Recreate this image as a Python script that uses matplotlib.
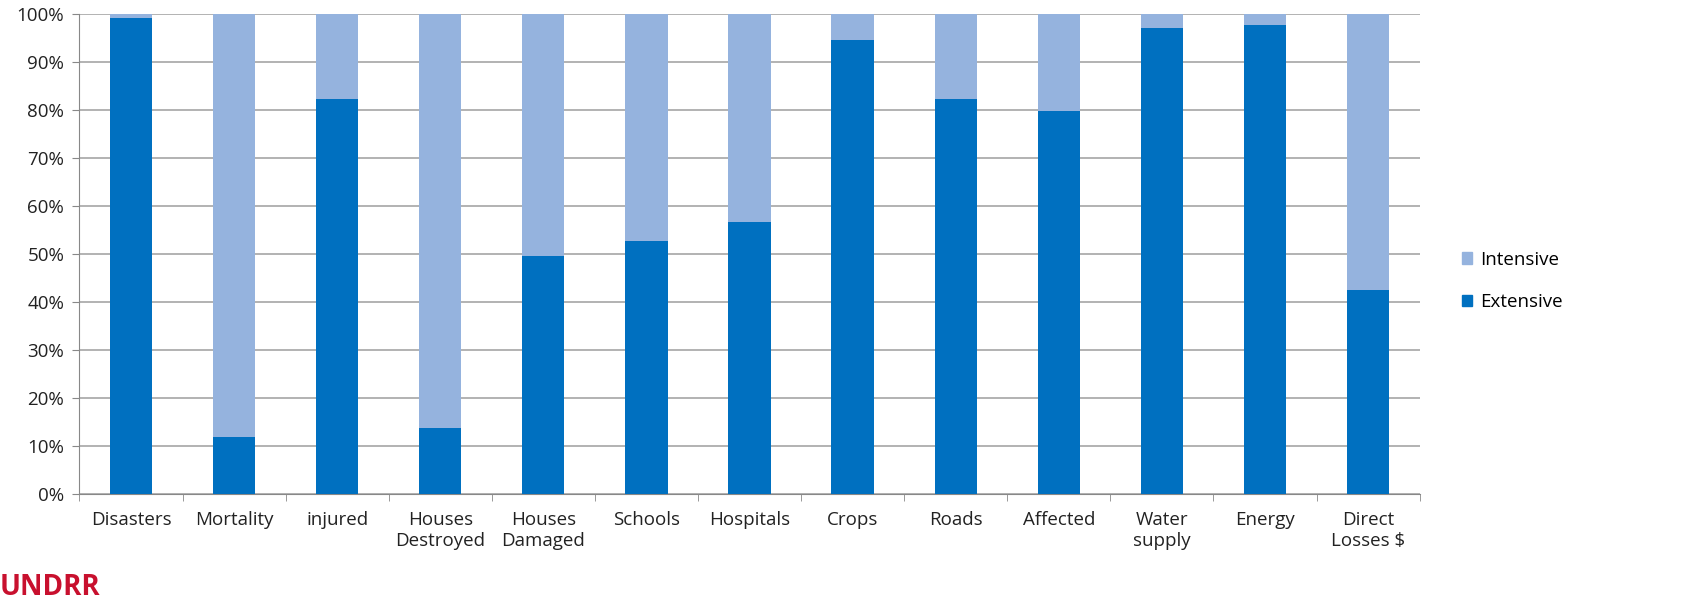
import matplotlib.pyplot as plt
import numpy as np
from matplotlib.patches import Patch

categories = ["Disasters", "Mortality", "injured", "Houses\nDestroyed", "Houses\nDamaged",
              "Schools", "Hospitals", "Crops", "Roads", "Affected", "Water\nsupply",
              "Energy", "Direct\nLosses $"]
extensive = [99.2, 11.9, 82.3, 13.8, 49.6, 52.7, 56.7, 94.6, 82.2, 79.8, 97.1, 97.6, 42.5]
intensive = [100 - v for v in extensive]

DARK = "#0070C0"
LIGHT = "#95B3DE"

plt.rcParams["font.family"] = ["Open Sans", "DejaVu Sans"]

fig = plt.figure(figsize=(16.9, 6.04), dpi=100)
ax = fig.add_axes([0.047, 0.182, 0.793, 0.795])

x = np.arange(len(categories))
ax.bar(x, extensive, width=0.41, color=DARK, zorder=3)
ax.bar(x, intensive, width=0.41, bottom=extensive, color=LIGHT, zorder=3)

ax.set_xlim(-0.5, len(categories) - 0.5)
ax.set_ylim(0, 100)
ax.set_yticks(range(0, 101, 10))
ax.set_yticklabels([f"{v}%" for v in range(0, 101, 10)], fontsize=13.5, color="#222222")
ax.yaxis.grid(True, color="#A6A6A6", linewidth=1.2, zorder=0)

ax.set_xticks(x)
ax.set_xticklabels(categories, fontsize=13.5, color="#222222", va="top", linespacing=1.25)
ax.set_xticks(np.arange(-0.5, len(categories), 1), minor=True)
ax.tick_params(axis="x", which="major", length=0, pad=12)
ax.tick_params(axis="x", which="minor", length=5, color="#888888")
ax.tick_params(axis="y", length=5, color="#888888", pad=6)

for side in ["top", "right"]:
    ax.spines[side].set_visible(False)
ax.spines["left"].set_color("#888888")
ax.spines["bottom"].set_color("#888888")

handles = [Patch(color=LIGHT, label="Intensive"), Patch(color=DARK, label="Extensive")]
fig.legend(handles=handles, loc="center left", bbox_to_anchor=(0.855, 0.535), frameon=False,
           fontsize=13.5, handlelength=0.55, handleheight=0.55, handletextpad=0.4, labelspacing=1.3)

fig.text(0.0, 0.003, "UNDRR", color="#C8102E", fontsize=20, fontweight="bold", va="bottom")

fig.savefig("out.png", dpi=100)
